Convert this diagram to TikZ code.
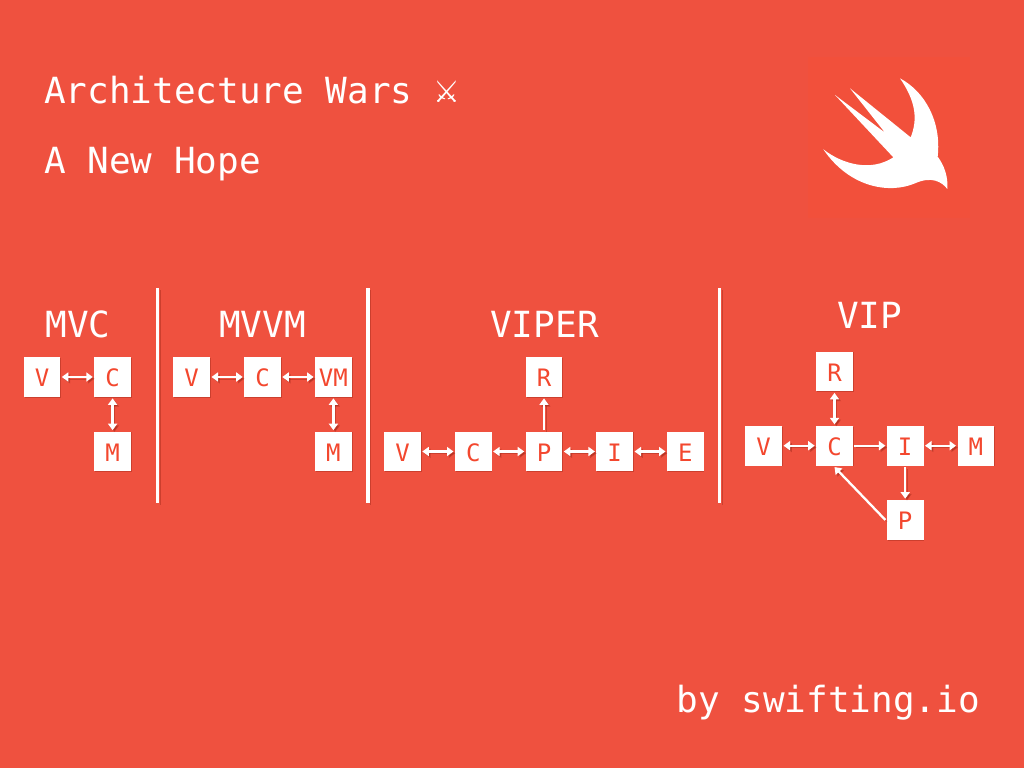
\documentclass[tikz,border=0pt]{standalone}
\usepackage{fontspec}
\setmainfont{DejaVu Sans Mono}
\newfontfamily\symfont{DejaVu Sans}
\usetikzlibrary{arrows.meta,shadows}
\definecolor{bgred}{HTML}{EF513F}
\definecolor{logored}{HTML}{F2503B}
\definecolor{boxtext}{HTML}{F3472E}
\definecolor{shadowred}{HTML}{8A1E10}
\tikzset{
  heading/.style={text=white,font=\fontsize{36}{36}\selectfont,inner sep=0pt},
  pbox/.style={fill=white,text=boxtext,font=\fontsize{24}{24}\selectfont,
    minimum width=36.6pt,minimum height=39.7pt,inner sep=0pt,outer sep=1.5pt,
    text height=19.5pt,text depth=0pt,
    drop shadow={shadow xshift=0.8pt,shadow yshift=-0.8pt,opacity=.35,fill=shadowred}},
  conn/.style={draw=white,line width=2.3pt,
    preaction={draw=shadowred,opacity=.35,transform canvas={shift={(1.8pt,-1.8pt)}}}},
  both/.style={conn,{Triangle[length=6.5pt,width=9pt]}-{Triangle[length=6.5pt,width=9pt]}},
  one/.style={conn,-{Triangle[length=6.5pt,width=9pt]}},
  divider/.style={draw=white,line width=3.2pt,
    preaction={draw=shadowred,opacity=.35,transform canvas={shift={(2.2pt,-2.2pt)}}}}
}
\begin{document}
\begin{tikzpicture}[x=1pt,y=-1pt]
\useasboundingbox (0,0) rectangle (1024,768);
\fill[bgred] (0,0) rectangle (1024,768);
% logo
\fill[logored] (808,57) rectangle (970,218);
\begin{scope}[shift={(800,50)},x=0.3333pt,y=-0.3333pt]
\fill[white] (300,85) .. controls (375,125) and (425,215) .. (413,320)
  .. controls (432,345) and (445,380) .. (442,417)
  .. controls (425,395) and (395,378) .. (345,400)
  .. controls (270,432) and (150,415) .. (70,298)
  .. controls (130,345) and (215,365) .. (280,322)
  -- (105,135) -- (255,248) -- (150,115) -- (332,262)
  .. controls (355,205) and (345,150) .. (300,85) -- cycle;
\end{scope}
% titles
\node[heading,anchor=base west] (t1) at (44,103.5) {Architecture Wars};
\node[heading,anchor=base west,font={\symfont\fontsize{30}{30}\selectfont}] (sw) at (433,102) {⚔};
\node[heading,anchor=base west] (t2) at (44,173) {A New Hope};
\node[heading,anchor=base east] (t3) at (980,712) {by swifting.io};
% section names
\node[heading,anchor=base] (hmvc) at (78,337) {MVC};
\node[heading,anchor=base] (hmvvm) at (262.5,337) {MVVM};
\node[heading,anchor=base] (hviper) at (544.5,337) {VIPER};
\node[heading,anchor=base] (hvip) at (869.5,328) {VIP};
% dividers
\coordinate (d1a) at (157.5,288); \coordinate (d1b) at (157.5,503);
\coordinate (d2a) at (368,288);   \coordinate (d2b) at (368,503);
\coordinate (d3a) at (719.5,288); \coordinate (d3b) at (719.5,503);
\draw[divider] (d1a) -- (d1b);
\draw[divider] (d2a) -- (d2b);
\draw[divider] (d3a) -- (d3b);
% MVC
\node[pbox] (a1) at (42,377) {V};
\node[pbox] (a2) at (112.6,377) {C};
\node[pbox] (a3) at (112.6,451.5) {M};
\draw[both] (a1) -- (a2);
\draw[both] (a2) -- (a3);
% MVVM
\node[pbox] (b1) at (191.7,377) {V};
\node[pbox] (b2) at (262.5,377) {C};
\node[pbox] (b3) at (333.4,377) {VM};
\node[pbox] (b4) at (333.4,451.5) {M};
\draw[both] (b1) -- (b2);
\draw[both] (b2) -- (b3);
\draw[both] (b3) -- (b4);
% VIPER
\node[pbox] (c1) at (402.5,451.5) {V};
\node[pbox] (c2) at (473.3,451.5) {C};
\node[pbox] (c3) at (544,451.5) {P};
\node[pbox] (c4) at (614.7,451.5) {I};
\node[pbox] (c5) at (685.3,451.5) {E};
\node[pbox] (c6) at (544,377) {R};
\draw[both] (c1) -- (c2);
\draw[both] (c2) -- (c3);
\draw[both] (c3) -- (c4);
\draw[both] (c4) -- (c5);
\draw[one] (c3) -- (c6);
% VIP
\node[pbox] (e1) at (763.7,445.7) {V};
\node[pbox] (e2) at (834.5,445.7) {C};
\node[pbox] (e3) at (905.2,445.7) {I};
\node[pbox] (e4) at (975.8,445.7) {M};
\node[pbox] (e5) at (834.5,371.5) {R};
\node[pbox] (e6) at (905.2,520) {P};
\draw[both] (e1) -- (e2);
\draw[one] (e2) -- (e3);
\draw[both] (e3) -- (e4);
\draw[both] (e5) -- (e2);
\draw[one] (e3) -- (e6);
\draw[one] (e6.west) -- (e2.south);
\end{tikzpicture}
\end{document}
